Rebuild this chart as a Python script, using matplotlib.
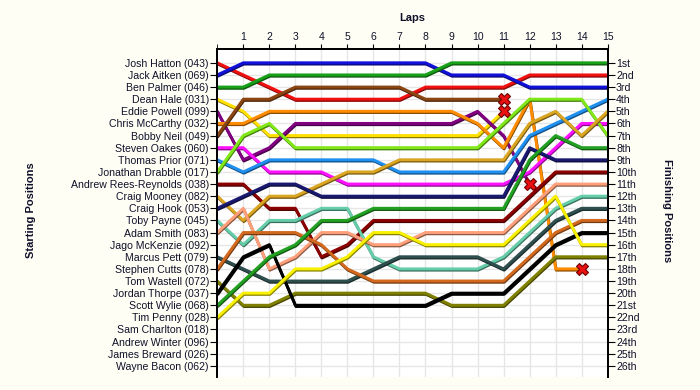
import numpy as np
import matplotlib
matplotlib.use("Agg")
import matplotlib.pyplot as plt
import matplotlib.patheffects as pe
from matplotlib.colors import to_rgb

plt.rcParams['font.family'] = ['Liberation Sans', 'DejaVu Sans']

# starting order (grid positions 1..26)
names = ['Josh Hatton (043)', 'Jack Aitken (069)', 'Ben Palmer (046)', 'Dean Hale (031)',
         'Eddie Powell (099)', 'Chris McCarthy (032)', 'Bobby Neil (049)', 'Steven Oakes (060)',
         'Thomas Prior (071)', 'Jonathan Drabble (017)', 'Andrew Rees-Reynolds (038)',
         'Craig Mooney (082)', 'Craig Hook (053)', 'Toby Payne (045)', 'Adam Smith (083)',
         'Jago McKenzie (092)', 'Marcus Pett (079)', 'Stephen Cutts (078)', 'Tom Wastell (072)',
         'Jordan Thorpe (037)', 'Scott Wylie (068)', 'Tim Penny (028)', 'Sam Charlton (018)',
         'Andrew Winter (096)', 'James Breward (026)', 'Wayne Bacon (062)']

colors = ['#F01010', '#1010D8', '#18A018', '#FFE000', '#800080', '#FF8C00', '#8B4513',
          '#FF10FF', '#2090F0', '#80E818', '#8B0000', '#DAA520', '#191970', '#66CDAA',
          '#FFA07A', None, '#2F4F4F', '#D2691E', '#808000', '#000000', '#22A022',
          '#F8F000', None, None, None, None]

# position at each lap (lap 0 = grid)
pos = [
    [1, 2, 3, 4, 4, 4, 4, 4, 3, 3, 3, 3, 2, 2, 2, 2],
    [2, 1, 1, 1, 1, 1, 1, 1, 1, 2, 2, 2, 3, 3, 3, 3],
    [3, 3, 2, 2, 2, 2, 2, 2, 2, 1, 1, 1, 1, 1, 1, 1],
    [4, 5, 7, 7, 7, 7, 7, 7, 7, 7, 7, 5],
    [5, 9, 8, 6, 6, 6, 6, 6, 6, 6, 5, 7, 11],
    [6, 6, 5, 5, 5, 5, 5, 5, 5, 5, 6, 8, 4, 18, 18],
    [7, 4, 4, 3, 3, 3, 3, 3, 4, 4, 4, 4],
    [8, 8, 10, 10, 10, 11, 11, 11, 11, 11, 11, 11, 10, 8, 6, 6],
    [9, 10, 9, 9, 9, 9, 9, 10, 10, 10, 10, 10, 7, 6, 5, 4],
    [10, 7, 6, 8, 8, 8, 8, 8, 8, 8, 8, 6, 4, 4, 4, 7],
    [11, 11, 13, 13, 17, 16, 14, 14, 14, 14, 14, 14, 12, 10, 10, 10],
    [12, 14, 12, 12, 11, 10, 10, 9, 9, 9, 9, 9, 6, 5, 7, 5],
    [13, 12, 11, 11, 12, 12, 12, 12, 12, 12, 12, 12, 8, 9, 9, 9],
    [14, 16, 14, 14, 13, 13, 17, 18, 18, 18, 18, 17, 15, 13, 12, 12],
    [15, 13, 18, 17, 15, 15, 16, 16, 15, 15, 15, 15, 13, 11, 11, 11],
    [],
    [17, 18, 19, 19, 19, 19, 18, 17, 17, 17, 17, 18, 16, 14, 13, 13],
    [18, 15, 15, 15, 16, 18, 19, 19, 19, 19, 19, 19, 17, 15, 14, 14],
    [19, 21, 21, 20, 20, 20, 20, 20, 20, 21, 21, 21, 19, 17, 17, 17],
    [20, 17, 16, 21, 21, 21, 21, 21, 21, 20, 20, 20, 18, 16, 15, 15],
    [21, 19, 17, 16, 14, 14, 13, 13, 13, 13, 13, 13, 9, 7, 8, 8],
    [22, 20, 20, 18, 18, 17, 15, 15, 16, 16, 16, 16, 14, 12, 16, 16],
    [], [], [], [],
]

n_laps = 15
finish_labels = ['1st', '2nd', '3rd'] + ['%dth' % i for i in range(4, 21)] + \
                ['21st', '22nd', '23rd', '24th', '25th', '26th']

fig = plt.figure(figsize=(7, 3.9), dpi=100, facecolor='#FEFEF4')
ax = fig.add_axes([0.3104, 0.0333, 0.5577, 0.8411])
ax.set_facecolor('white')

txt = '#10102a'
for i, p in enumerate(pos):
    if not p:
        continue
    c = colors[i]
    dark = tuple(v * 0.55 for v in to_rgb(c))
    ax.plot(range(len(p)), p, color=c, lw=2.1, solid_capstyle='round', zorder=3,
            path_effects=[pe.SimpleLineShadow(offset=(0.4, -0.9), shadow_color=dark, alpha=1),
                          pe.Normal()])
    if len(p) < n_laps + 1:
        ax.plot(len(p) - 1, p[-1], marker='X', ms=9, color='#E81010',
                markeredgecolor='#700000', markeredgewidth=0.8, zorder=5)

ax.set_xlim(0, n_laps)
ax.set_ylim(26.92, -0.14)

ax.set_xticks(range(1, n_laps + 1))
ax.set_xticks(range(0, n_laps + 1), minor=True)
ax.xaxis.tick_top()
ax.tick_params(axis='x', which='both', length=3.5, color='black', labelsize=7.5,
               labelcolor=txt, pad=1.5)
ax.tick_params(axis='x', which='major', bottom=False)
ax.tick_params(axis='x', which='minor', bottom=False)

ax.set_yticks(range(1, 27))
ax.set_yticklabels(names)
ax.tick_params(axis='y', length=5, labelsize=7.6, labelcolor=txt, pad=1, left=True)

ax2 = ax.twinx()
ax2.set_ylim(ax.get_ylim())
ax2.set_yticks(range(1, 27))
ax2.set_yticklabels(finish_labels)
ax2.tick_params(axis='y', length=5, labelsize=7.6, labelcolor=txt, pad=1)

ax.grid(True, color='#E6E6E6', lw=1, zorder=0)
ax.set_axisbelow(True)
for a in (ax, ax2):
    a.spines['bottom'].set_visible(False)
    for s in ('top', 'left', 'right'):
        a.spines[s].set_linewidth(1.3)
        a.spines[s].set_color('black')

fig.text(0.589, 0.953, 'Laps', ha='center', va='center', fontsize=8, fontweight='bold', color=txt)
fig.text(0.044, 0.46, 'Starting Positions', ha='center', va='center', rotation=90,
         fontsize=8, fontweight='bold', color=txt)
fig.text(0.953, 0.46, 'Finishing Positions', ha='center', va='center', rotation=270,
         fontsize=8, fontweight='bold', color=txt)

fig.savefig('out.png', dpi=100, facecolor=fig.get_facecolor())
